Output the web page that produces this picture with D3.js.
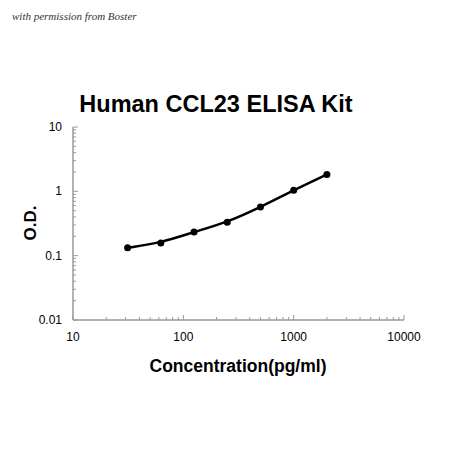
<!DOCTYPE html>
<html><head><meta charset="utf-8">
<script src="https://cdn.jsdelivr.net/npm/d3@7/dist/d3.min.js"></script>
<style>body{margin:0;background:#fff}</style></head>
<body><svg id="c" width="450" height="450"></svg>
<script>
const conc = [31.25, 62.5, 125, 250, 500, 1000, 2000];
const od = [0.133, 0.158, 0.234, 0.33, 0.57, 1.04, 1.83];
const xTicks = [10, 100, 1000, 10000];
const yTicks = [0.01, 0.1, 1, 10];

const svg = d3.select("#c");
const x = d3.scaleLog().domain([10, 10000]).range([73, 404]);
const y = d3.scaleLog().domain([0.01, 10]).range([320, 127]);

svg.append("text").attr("x", 12).attr("y", 20).attr("font-family", "Liberation Serif")
  .attr("font-style", "italic").attr("font-size", 11).attr("fill", "#333").text("with permission from Boster");
svg.append("text").attr("x", 216).attr("y", 112).attr("text-anchor", "middle")
  .attr("font-family", "Liberation Sans").attr("font-weight", "bold").attr("font-size", 23.5).text("Human CCL23 ELISA Kit");

const minorX = [];
for (let d = 10; d < 10000; d *= 10) for (let k = 2; k <= 9; k++) minorX.push(d * k);
const minorY = [];
for (let d = 0.01; d < 9; d *= 10) for (let k = 2; k <= 9; k++) minorY.push(d * k);

const g = svg.append("g").attr("stroke", "#999");
g.append("line").attr("x1", 73).attr("x2", 404).attr("y1", 320).attr("y2", 320).attr("stroke-width", 1.5);
g.append("line").attr("x1", 73).attr("x2", 73).attr("y1", 127).attr("y2", 320).attr("stroke-width", 1.5);
g.selectAll(".mx").data(minorX).join("line").attr("x1", d => x(d)).attr("x2", d => x(d)).attr("y1", 320).attr("y2", 317);
g.selectAll(".my").data(minorY).join("line").attr("x1", 73).attr("x2", 76).attr("y1", d => y(d)).attr("y2", d => y(d));
g.selectAll(".Mx").data(xTicks).join("line").attr("x1", d => x(d)).attr("x2", d => x(d)).attr("y1", 320).attr("y2", 315);
g.selectAll(".My").data(yTicks).join("line").attr("x1", 73).attr("x2", 78).attr("y1", d => y(d)).attr("y2", d => y(d));

svg.selectAll(".xl").data(xTicks).join("text").attr("x", d => x(d)).attr("y", 341).attr("text-anchor", "middle")
  .attr("font-family", "Liberation Sans").attr("font-size", 12).text(d => d);
svg.selectAll(".yl").data(yTicks).join("text").attr("x", 62).attr("y", d => y(d) + 4).attr("text-anchor", "end")
  .attr("font-family", "Liberation Sans").attr("font-size", 12).text(d => d);

svg.append("text").attr("x", 238).attr("y", 372).attr("text-anchor", "middle").attr("font-family", "Liberation Sans")
  .attr("font-weight", "bold").attr("font-size", 17.5).text("Concentration(pg/ml)");
svg.append("text").attr("transform", "translate(36,223) rotate(-90)").attr("text-anchor", "middle")
  .attr("font-family", "Liberation Sans").attr("font-weight", "bold").attr("font-size", 17).text("O.D.");

const pts = conc.map((c, i) => [c, od[i]]);
svg.append("path").datum(pts).attr("fill", "none").attr("stroke", "#000").attr("stroke-width", 2.5)
  .attr("d", d3.line().x(d => x(d[0])).y(d => y(d[1])).curve(d3.curveBasis));
svg.selectAll(".pt").data(pts).join("circle").attr("cx", d => x(d[0])).attr("cy", d => y(d[1])).attr("r", 3.5);
</script></body></html>
